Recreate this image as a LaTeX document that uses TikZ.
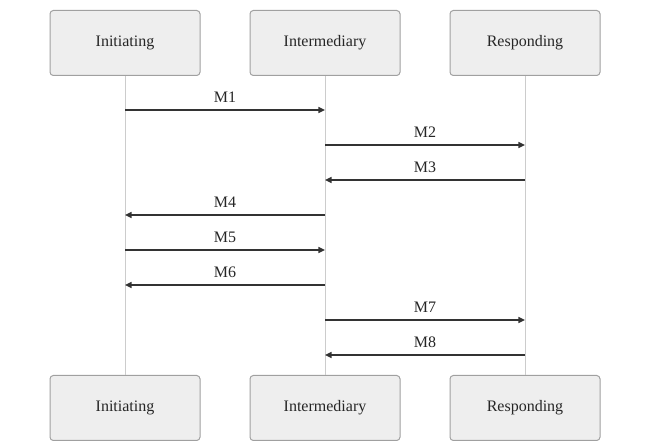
\documentclass[tikz,border=0pt]{standalone}
\usepackage{fontspec}
\setmainfont{Liberation Serif}
\usetikzlibrary{arrows.meta}
\definecolor{boxfill}{HTML}{EEEEEE}
\definecolor{boxdraw}{HTML}{A0A0A0}
\definecolor{lifeline}{HTML}{CCCCCC}
\definecolor{msg}{HTML}{333333}
\begin{document}
\begin{tikzpicture}[x=0.75pt,y=-0.75pt,
  actor/.style={draw=boxdraw,fill=boxfill,rounded corners=2.5pt,minimum width=112.5pt,minimum height=48.75pt,inner sep=0pt,font=\fontsize{12}{14}\selectfont,text=black!85,line width=0.75pt},
  life/.style={draw=lifeline,line width=0.75pt},
  msgarrow/.style={draw=msg,line width=1.1pt,-{Triangle[length=5pt,width=4.5pt]}},
  lbl/.style={font=\fontsize{12}{14}\selectfont,text=black!85,inner sep=0pt}]
\useasboundingbox (0,0) rectangle (650,441);
\node[actor] (a1) at (125,43) {Initiating};
\node[actor] (b1) at (325,43) {Intermediary};
\node[actor] (c1) at (525,43) {Responding};
\node[actor] (a2) at (125,408) {Initiating};
\node[actor] (b2) at (325,408) {Intermediary};
\node[actor] (c2) at (525,408) {Responding};
\draw[life] (a1.south) -- (a2.north);
\draw[life] (b1.south) -- (b2.north);
\draw[life] (c1.south) -- (c2.north);
\foreach \n/\y in {1/110,2/145,3/180,4/215,5/250,6/285,7/320,8/355}{
  \coordinate (pa\n) at (125,\y);
  \coordinate (pb\n) at (325,\y);
  \coordinate (pc\n) at (525,\y);
}
\draw[msgarrow] (pa1) -- (pb1) node[lbl,midway,above=5.3pt] {M1};
\draw[msgarrow] (pb2) -- (pc2) node[lbl,midway,above=5.3pt] {M2};
\draw[msgarrow] (pc3) -- (pb3) node[lbl,midway,above=5.3pt] {M3};
\draw[msgarrow] (pb4) -- (pa4) node[lbl,midway,above=5.3pt] {M4};
\draw[msgarrow] (pa5) -- (pb5) node[lbl,midway,above=5.3pt] {M5};
\draw[msgarrow] (pb6) -- (pa6) node[lbl,midway,above=5.3pt] {M6};
\draw[msgarrow] (pb7) -- (pc7) node[lbl,midway,above=5.3pt] {M7};
\draw[msgarrow] (pc8) -- (pb8) node[lbl,midway,above=5.3pt] {M8};
\end{tikzpicture}
\end{document}
